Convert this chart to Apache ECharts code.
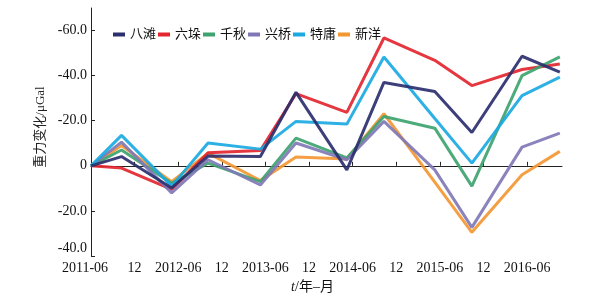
<!DOCTYPE html>
<html><head><meta charset="utf-8">
<script src="https://cdn.jsdelivr.net/npm/echarts@6/dist/echarts.min.js"></script>
<style>html,body{margin:0;padding:0;background:#fff}#c{width:593px;height:300px}</style>
</head><body><div id="c"></div>
<script>
// months since 2011-06 for each survey epoch
const epochs = [0, 4.2, 11.1, 16.1, 23.3, 28.2, 35.2, 40.3, 47.3, 52.4, 59.3, 64.5];
const tickLabels = ['2011-06','12','2012-06','12','2013-06','12','2014-06','12','2015-06','12','2016-06'];
const names = ['八滩','六垛','千秋','兴桥','特庸','新洋'];
const baTan   = [0, 4.1, -9.8, 4.3, 4.1, 32.6, -1.8, 37, 33, 14.8, 48.6, 41.6];
const liuDuo  = [0, -1, -10.5, 5.8, 6.8, 32, 23.7, 56.7, 46.8, 35.6, 42.7, 45.2];
const qianQiu = [0, 7, -7.7, 1.2, -7, 12.3, 3.5, 21.9, 16.7, -9, 40, 48.3];
const xingQiao= [0, 10.5, -12, 2.7, -8.5, 10.1, 2.7, 19.7, -1.8, -27.3, 8.3, 14.5];
const teYong  = [0, 13.5, -9, 10.1, 7.4, 19.7, 18.5, 48.3, 21, 1.2, 31.1, 39.3];
const xinYang = [0, 9, -7, 5.6, -6.5, 3.9, 3, 23.1, -7.2, -29.5, -4, 6.4];
const yTicks = [-40, -20, 0, 20, 40, 60];

const colors = ['#2b2f6e','#e3262f','#3ea36f','#8078b6','#1ba9e1','#f39733'];
const seriesVals = [baTan, liuDuo, qianQiu, xingQiao, teYong, xinYang];
const zs = [8, 3, 4, 5, 6, 2];
const serif = "'Liberation Serif','Noto Sans CJK SC',serif";

const chart = echarts.init(document.getElementById('c'));
chart.setOption({
  animation: false,
  color: colors,
  grid: {left: 91, right: 31, top: 8, bottom: 44},
  legend: {
    left: 108, top: 23, itemWidth: 12, itemHeight: 4, itemGap: 2, icon: 'rect',
    textStyle: {fontSize: 13, color: '#111', fontFamily: serif},
    data: names
  },
  xAxis: {
    type: 'value', min: 0, max: 64.8, interval: 6,
    splitLine: {show: false},
    axisLine: {lineStyle: {color: '#222', width: 1}},
    axisTick: {inside: true, length: 4, lineStyle: {color: '#222'}},
    axisLabel: {
      margin: 5, fontSize: 14, color: '#111', fontFamily: serif,
      showMaxLabel: false,
      formatter: function (v) {
        const i = Math.round(v / 6);
        if (Math.abs(v - i * 6) > 0.01 || i >= tickLabels.length) return '';
        if (i === 0) return '{f|' + tickLabels[0] + '}';
        return tickLabels[i];
      },
      rich: {f: {fontSize: 14, fontFamily: serif, color: '#111', padding: [0, 12, 0, 0]}}
    },
    name: '{i|t}/年–月', nameLocation: 'middle', nameGap: 22,
    nameTextStyle: {
      fontSize: 14, color: '#111', fontFamily: serif, padding: [0, 28, 0, 0],
      rich: {i: {fontStyle: 'italic', fontSize: 14, fontFamily: serif, color: '#111'}}
    }
  },
  yAxis: {
    type: 'value', min: -40, max: 70, interval: 20,
    splitLine: {show: false},
    axisLine: {show: true, lineStyle: {color: '#222', width: 1}},
    axisTick: {show: true, inside: true, length: 4, customValues: yTicks, lineStyle: {color: '#222'}},
    axisLabel: {
      margin: 4, fontSize: 14, color: '#111', fontFamily: serif,
      customValues: yTicks,
      formatter: function (v) {
        if (v === 0) return '0';
        const s = '-' + Math.abs(v).toFixed(1);
        if (v === -40) return '{b|' + s + '}';
        return s;
      },
      rich: {b: {fontSize: 14, fontFamily: serif, color: '#111', padding: [0, 0, 16, 0]}}
    },
    name: '重力变化/μGal', nameLocation: 'middle', nameGap: 33, nameRotate: 90,
    nameTextStyle: {fontSize: 13, color: '#222', fontFamily: serif, padding: [0, 0, 0, 10]}
  },
  series: names.map(function (n, k) {
    return {
      name: n, type: 'line', z: zs[k], showSymbol: false, symbol: 'none',
      lineStyle: {width: 3, color: colors[k], opacity: 0.92},
      data: epochs.map(function (x, i) { return [x, seriesVals[k][i]]; })
    };
  })
});
</script></body></html>
